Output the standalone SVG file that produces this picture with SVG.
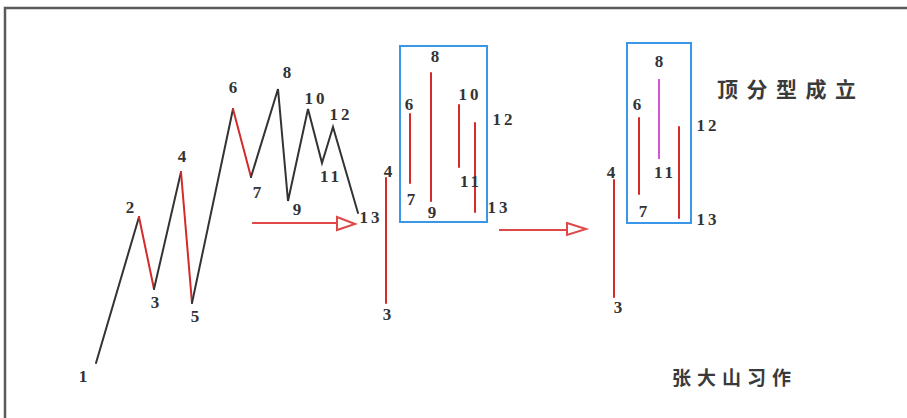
<svg xmlns="http://www.w3.org/2000/svg" width="907" height="418" viewBox="0 0 907 418">
<style>
.n{font-family:"Liberation Serif","DejaVu Serif",serif;font-size:17px;font-weight:bold;fill:#333;text-anchor:middle}
.w{letter-spacing:3px}
.k{stroke:#333;stroke-width:2;fill:none;stroke-linecap:round}
.r{stroke:#d42a2a;stroke-width:2;fill:none;stroke-linecap:round}
.ar{stroke:#e04848;stroke-width:2;fill:none}
.ah{stroke:#e04848;stroke-width:2;fill:#fff}
.box{stroke:#3a96e6;stroke-width:2;fill:none}
.cn{font-family:"Noto Sans CJK SC","Noto Sans",sans-serif;font-weight:bold;fill:#3a3a3a}
</style>
<rect width="907" height="418" fill="#fff"/>
<path d="M5 418 V8 H907" stroke="#5a5a5a" stroke-width="2.5" fill="none"/>
<g id="connectors">
  <g id="wave">
    <path class="k" d="M96 363 L139 217"/>
    <path class="r" d="M139 217 L154 289"/>
    <path class="k" d="M154 289 L181 172"/>
    <path class="r" d="M181 172 L192 303"/>
    <path class="k" d="M192 303 L233 109"/>
    <path class="r" d="M233 109 L251 177"/>
    <path class="k" d="M251 177 L278 89 L288 201 L308 109 L322 163 L333 127 L358 213"/>
  </g>
  <g id="bars1">
    <path class="r" d="M386 178 V303"/>
    <path class="r" d="M410 114 V183"/>
    <path class="r" d="M431 73 V201"/>
    <path class="r" d="M459 105 V167"/>
    <path class="r" d="M475 123 V212"/>
  </g>
  <g id="bars2">
    <path class="r" d="M614 180 V297"/>
    <path class="r" d="M639 118 V194"/>
    <path d="M659 79 V159" stroke="#d855d8" stroke-width="2" fill="none"/>
    <path class="r" d="M679 127 V218"/>
  </g>
  <g id="arrow1">
    <path class="ar" d="M252 223 H337"/>
    <path class="ah" d="M337 217 L355 224 L337 230 Z"/>
  </g>
  <g id="arrow2">
    <path class="ar" d="M499 230 H567"/>
    <path class="ah" d="M567 223 L586 229 L567 235 Z"/>
  </g>
</g>
<g id="box1"><rect class="box" x="400" y="46" width="87" height="176"/></g>
<g id="box2"><rect class="box" x="627" y="43" width="64" height="180"/></g>
<g id="labels-wave">
  <text class="n" x="83" y="382">1</text>
  <text class="n" x="130" y="213">2</text>
  <text class="n" x="155" y="308">3</text>
  <text class="n" x="182" y="162">4</text>
  <text class="n" x="195" y="322">5</text>
  <text class="n" x="233" y="93">6</text>
  <text class="n" x="257" y="198">7</text>
  <text class="n" x="287" y="78">8</text>
  <text class="n" x="297" y="215">9</text>
  <text class="n w" x="316" y="104">10</text>
  <text class="n w" x="331" y="182">11</text>
  <text class="n w" x="341" y="120">12</text>
  <text class="n w" x="371" y="223">13</text>
</g>
<g id="labels-1">
  <text class="n" x="388" y="177">4</text>
  <text class="n" x="387" y="320">3</text>
  <text class="n" x="409" y="110">6</text>
  <text class="n" x="411" y="205">7</text>
  <text class="n" x="435" y="62">8</text>
  <text class="n" x="432" y="218">9</text>
  <text class="n w" x="470" y="100">10</text>
  <text class="n w" x="471" y="187">11</text>
  <text class="n w" x="504" y="125">12</text>
  <text class="n w" x="499" y="213">13</text>
</g>
<g id="labels-2">
  <text class="n" x="611" y="178">4</text>
  <text class="n" x="618" y="313">3</text>
  <text class="n" x="637" y="110">6</text>
  <text class="n" x="643" y="217">7</text>
  <text class="n" x="659" y="67">8</text>
  <text class="n w" x="665" y="178">11</text>
  <text class="n w" x="708" y="131">12</text>
  <text class="n w" x="708" y="225">13</text>
</g>
<g id="title">
  <text class="cn" x="717" y="97" font-size="21" letter-spacing="8.5">顶分型成立</text>
</g>
<g id="author">
  <text class="cn" x="672" y="385" font-size="19" letter-spacing="6">张大山习作</text>
</g>
</svg>
